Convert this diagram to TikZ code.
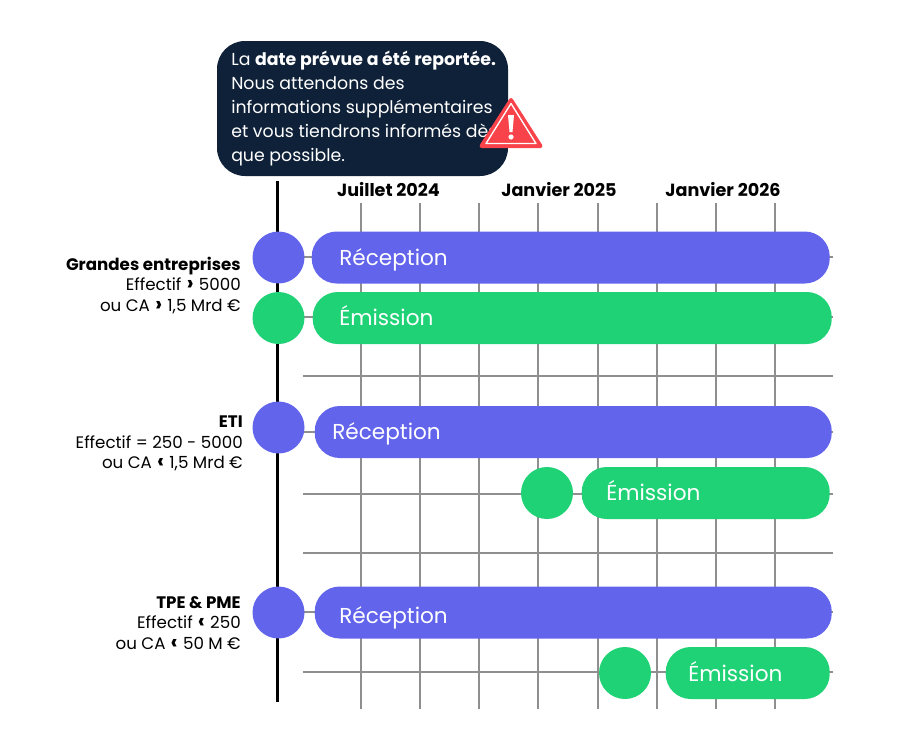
\documentclass[tikz,border=0pt]{standalone}
\usepackage{fontspec}
\setmainfont{Poppins}
\definecolor{recepblue}{HTML}{6264EC}
\definecolor{emisgreen}{HTML}{20D276}
\definecolor{notenavy}{HTML}{0F2138}
\definecolor{warnred}{HTML}{F8434A}
\definecolor{gridgrey}{HTML}{8F8F8F}
\newcommand{\gtmark}{\hspace{.5pt}{\fontsize{16pt}{16pt}\selectfont\textbf{›}}\hspace{.5pt}}
\newcommand{\ltmark}{\hspace{.5pt}{\fontsize{16pt}{16pt}\selectfont\textbf{‹}}\hspace{.5pt}}
\tikzset{
	dot/.style={circle, inner sep=0pt, minimum size=52*0.75pt},
	bar/.style={rounded corners=25*0.75pt, inner sep=0pt, minimum height=52*0.75pt, anchor=east},
	recep/.style={fill=recepblue},
	emis/.style={fill=emisgreen},
	barlabel/.style={text=white, anchor=base west, inner sep=0pt, font=\fontsize{16.2pt}{16.2pt}\selectfont},
	monthlabel/.style={anchor=base, inner sep=0pt, font=\fontsize{13.2pt}{13.2pt}\selectfont\bfseries},
	sidelabel/.style={anchor=north east, align=right, inner sep=0pt, font=\fontsize{12.5pt}{15.4pt}\selectfont}
}
\begin{document}
\begin{tikzpicture}[x=0.75pt, y=-0.75pt]
	%%%%% START %%%%%
	\useasboundingbox (0, 0) rectangle (900, 750);

	% grid
	\foreach \gx in {361, 420, 479, 538, 598, 657, 716, 775}
		\draw[line width=1.4pt, color=gridgrey] (\gx, 203) -- (\gx, 709);
	\foreach \gy in {257, 317, 376, 432, 494, 553, 612, 672}
		\draw[line width=1.4pt, color=gridgrey] (303, \gy) -- (833, \gy);

	\draw[line width=2.4pt] (277.7, 181) -- (277.7, 702);

	% circles
	\node[dot, recep] (dotA) at (278.5, 257.5) {};
	\node[dot, emis] (dotB) at (278.5, 318) {};
	\node[dot, recep] (dotC) at (278.5, 427.5) {};
	\node[dot, emis] (dotD) at (547, 493) {};
	\node[dot, recep] (dotE) at (278.5, 612.5) {};
	\node[dot, emis] (dotF) at (625, 673) {};

	% bars
	\node[bar, recep, minimum width=518*0.75pt] (barA) at (830, 257.5) {};
	\node[bar, emis, minimum width=519*0.75pt] (barB) at (832, 318) {};
	\node[bar, recep, minimum width=517*0.75pt] (barC) at (832, 432) {};
	\node[bar, emis, minimum width=248*0.75pt] (barD) at (830, 493) {};
	\node[bar, recep, minimum width=517*0.75pt] (barE) at (832, 612.5) {};
	\node[bar, emis, minimum width=164*0.75pt] (barF) at (830, 673) {};

	\node[barlabel] (txtA) at (339, 265) {Réception};
	\node[barlabel] (txtB) at (339, 325) {Émission};
	\node[barlabel] (txtC) at (332, 439) {Réception};
	\node[barlabel] (txtD) at (606, 500) {Émission};
	\node[barlabel] (txtE) at (339, 623) {Réception};
	\node[barlabel] (txtF) at (688, 681) {Émission};

	% months
	\node[monthlabel] (monthA) at (388.5, 196) {Juillet 2024};
	\node[monthlabel] (monthB) at (559, 196) {Janvier 2025};
	\node[monthlabel] (monthC) at (723, 196) {Janvier 2026};

	% company sizes
	\node[sidelabel] (sizeA) at (241, 256.5) {\textbf{Grandes entreprises}\\Effectif \gtmark{} 5000\\ou CA \gtmark{} 1,5 Mrd €};
	\node[sidelabel] (sizeB) at (243, 415.5) {\textbf{ETI}\hspace{3pt}\\Effectif = 250 - 5000\\ou CA \ltmark{} 1,5 Mrd €};
	\node[sidelabel] (sizeC) at (241, 596) {\textbf{TPE \& PME}\\Effectif \ltmark{} 250\\ou CA \ltmark{} 50 M €};

	% note
	\draw[fill=notenavy, draw=none, rounded corners=28*0.75pt] (217, 41) rectangle (508, 176);
	\node[anchor=north west, align=left, text=white, inner sep=0pt, font=\fontsize{13pt}{18pt}\selectfont] (note) at (231, 51)
		{La \textbf{date prévue a été reportée.}\\Nous attendons des\\informations supplémentaires\\et vous tiendrons informés dès\\que possible.};

	% warning sign
	\draw[fill=warnred, draw=warnred, line width=3pt, line join=round] (511, 100) -- (540.5, 146) -- (481.5, 146) -- cycle;
	\draw[fill=warnred, draw=white, line width=1pt, line join=round] (511, 103.5) -- (536, 143.5) -- (486, 143.5) -- cycle;
	\draw[fill=white, draw=none] (508, 115) -- (514, 115) -- (512.5, 132) -- (509.5, 132) -- cycle;
	\draw[fill=white, draw=none] (511, 137) circle (2.6);
	%%%%% END %%%%%
\end{tikzpicture}
\end{document}
